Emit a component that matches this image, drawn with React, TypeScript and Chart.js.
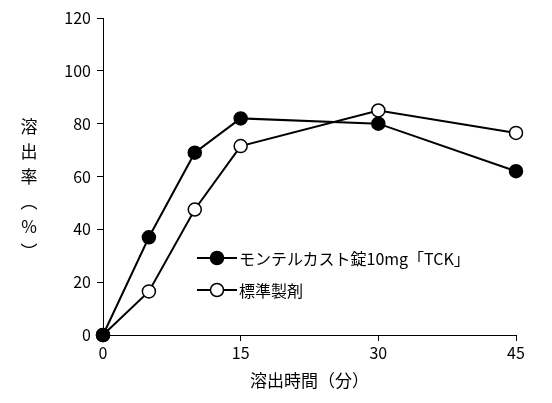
import React, { useEffect, useRef } from "react";
import Chart from "chart.js/auto";

const times = [0, 5, 10, 15, 30, 45];
const tckValues = [0, 37, 69, 82, 80, 62];
const refValues = [0, 16.5, 47.5, 71.5, 85, 76.5];
const seriesNames = ["モンテルカスト錠10mg「TCK」", "標準製剤"];
const xTicks = [0, 15, 30, 45];
const yTitle = ["溶", "出", "率", "︵", "%", "︶"];
const xTitle = "溶出時間（分）";

const FONT = "'Noto Sans CJK JP', 'Noto Sans', sans-serif";

export default function App() {
  const canvasRef = useRef<HTMLCanvasElement>(null);

  useEffect(() => {
    if (!canvasRef.current) return;
    const chart = new Chart(canvasRef.current, {
      type: "line",
      data: {
        datasets: [
          {
            label: seriesNames[0],
            data: times.map((t, i) => ({ x: t, y: tckValues[i] })),
            borderColor: "#000",
            backgroundColor: "#000",
            pointBackgroundColor: "#000",
            borderWidth: 2,
            pointRadius: 6.5,
            pointBorderWidth: 1.5,
            clip: false,
          },
          {
            label: seriesNames[1],
            data: times.map((t, i) => ({ x: t, y: refValues[i] })),
            borderColor: "#000",
            backgroundColor: "#fff",
            pointBackgroundColor: "#fff",
            borderWidth: 2,
            pointRadius: 6.5,
            pointBorderWidth: 1.5,
            clip: false,
          },
        ],
      },
      options: {
        animation: false,
        responsive: false,
        layout: { padding: { top: 18, right: 36, left: 0, bottom: 12 } },
        plugins: { legend: { display: false }, tooltip: { enabled: false } },
        scales: {
          x: {
            type: "linear",
            min: 0,
            max: 45,
            afterBuildTicks: (s: any) => {
              s.ticks = xTicks.map((v) => ({ value: v }));
            },
            afterFit: (s: any) => {
              s.height = 56;
            },
            border: { color: "#000", width: 1 },
            grid: { drawOnChartArea: false, color: "#000", tickLength: 6 },
            ticks: { color: "#000", font: { family: FONT, size: 16 }, padding: 2 },
            title: { display: true, text: xTitle, color: "#000", font: { family: FONT, size: 17 }, padding: 0 },
          },
          y: {
            min: 0,
            max: 120,
            afterFit: (s: any) => {
              s.width = 103;
            },
            border: { color: "#000", width: 1 },
            grid: { drawOnChartArea: false, color: "#000", tickLength: 6 },
            ticks: { stepSize: 20, color: "#000", font: { family: FONT, size: 16 }, padding: 6 },
          },
        },
      },
    });
    return () => chart.destroy();
  }, []);

  const row = (filled: boolean, label: string) => (
    <div style={{ display: "flex", alignItems: "center", height: 32 }}>
      <svg width={40} height={20}>
        <line x1={0} y1={10} x2={40} y2={10} stroke="#000" strokeWidth={2} />
        <circle cx={20} cy={10} r={6.5} fill={filled ? "#000" : "#fff"} stroke="#000" strokeWidth={1.5} />
      </svg>
      <span style={{ marginLeft: 2 }}>{label}</span>
    </div>
  );

  return (
    <div style={{ position: "fixed", left: 0, top: 0, width: 552, height: 403, background: "#fff" }}>
      <canvas ref={canvasRef} width={552} height={403} />
      <div
        style={{
          position: "absolute",
          left: 18,
          top: 113,
          width: 22,
          textAlign: "center",
          fontFamily: FONT,
          fontSize: 17,
          lineHeight: "25px",
          color: "#000",
        }}
      >
        {yTitle.map((c, i) => (
          <div key={i}>{c}</div>
        ))}
      </div>
      <div
        style={{
          position: "absolute",
          left: 197,
          top: 242,
          fontFamily: FONT,
          fontSize: 16,
          color: "#000",
        }}
      >
        {row(true, seriesNames[0])}
        {row(false, seriesNames[1])}
      </div>
    </div>
  );
}
